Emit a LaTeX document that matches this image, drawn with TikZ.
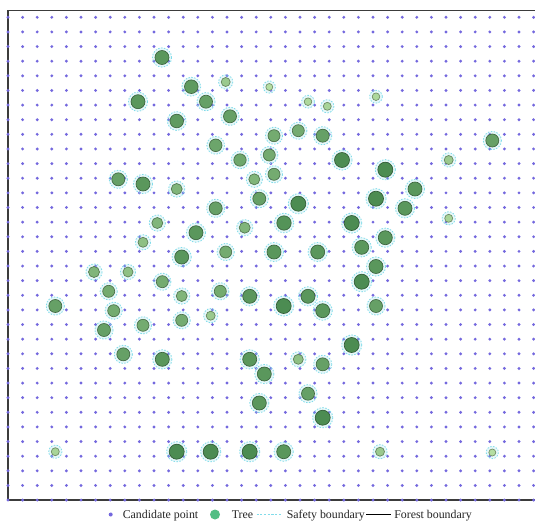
\documentclass[tikz,border=0pt]{standalone}
\usepackage{fontspec}
\setmainfont{Liberation Serif}
\definecolor{cand}{RGB}{116,104,222}
\definecolor{treeL}{RGB}{180,222,162}
\definecolor{treeD}{RGB}{76,140,82}
\definecolor{safe}{RGB}{130,220,234}
\definecolor{framec}{RGB}{60,60,60}
\definecolor{legtree}{RGB}{82,190,132}
\tikzset{
  candpt/.style={fill=cand},
  safetyring/.style={draw=safe, line width=0.6pt, dash pattern=on 1.1pt off 1.1pt, fill=safe, fill opacity=0.2},
  treebody/.style={line width=0.5pt},
  forestline/.style={draw=framec, line width=0.85pt},
  legtext/.style={anchor=base west, inner sep=0pt, font=\fontsize{8.9}{10}\selectfont, text=black!85}
}
\newcommand{\treeat}[3]{%
  \pgfmathtruncatemacro{\pp}{max(0,min(100,(#3-3.5)/4*100))}%
  \path[safetyring] (#1,#2) circle[radius=#3+2.6];
  \draw[treebody, fill=treeD!\pp!treeL, draw=treeD!\pp!treeL!65!black] (#1,#2) circle[radius=#3];
}
\begin{document}
\begin{tikzpicture}[x=0.75pt, y=-0.75pt]
\useasboundingbox (0,0) rectangle (535,525);
\fill[white] (0,0) rectangle (535,525);
\begin{scope}
\clip (0,0) rectangle (535,525);
% forest boundary
\draw[forestline] (545,10.7) -- (8,10.7) -- (8,500) -- (545,500);
% candidate points
\foreach \i in {0,...,36} {
  \foreach \j in {0,...,33} {
    \fill[candpt] (8+14.6*\i, 17.3+14.63*\j) circle[radius=1.6];
  }
}
% trees
\treeat{162}{57.5}{7}
\treeat{191.3}{86.7}{6.8}
\treeat{225.7}{82}{4.5}
\treeat{138}{101.7}{7}
\treeat{206}{101.7}{6.5}
\treeat{230}{116.3}{6.5}
\treeat{176.7}{121}{6.8}
\treeat{215.7}{145.3}{6.3}
\treeat{240}{160}{6.2}
\treeat{269.3}{87}{3.5}
\treeat{308}{101.7}{3.8}
\treeat{327.3}{106.3}{4}
\treeat{376}{96.7}{3.8}
\treeat{274}{135.7}{6}
\treeat{298.3}{130.7}{6}
\treeat{322.7}{135.7}{6.5}
\treeat{269.3}{155}{6}
\treeat{254.3}{179.3}{5.5}
\treeat{274}{174.3}{6}
\treeat{259.3}{198.7}{6.5}
\treeat{298.3}{203.7}{7.5}
\treeat{342}{160}{7.5}
\treeat{385.3}{169.7}{7.5}
\treeat{415}{189}{7}
\treeat{376}{198.7}{7.5}
\treeat{405}{208.3}{7}
\treeat{448.7}{160}{4.5}
\treeat{448.7}{218.3}{4}
\treeat{492.3}{140.5}{6.5}
\treeat{284}{223}{7.2}
\treeat{244.7}{227.7}{5.5}
\treeat{351.7}{223}{7.5}
\treeat{385.3}{237.7}{7}
\treeat{361.7}{247.3}{7}
\treeat{274}{252}{7}
\treeat{317.7}{252}{7}
\treeat{376}{266.5}{7}
\treeat{118.3}{179.3}{6.5}
\treeat{143}{184}{7}
\treeat{176.7}{189}{5.5}
\treeat{215.7}{208.3}{6.5}
\treeat{157.3}{223}{5.5}
\treeat{196}{232.7}{7}
\treeat{143}{242.3}{5}
\treeat{225.7}{252}{6}
\treeat{181.7}{257}{7}
\treeat{94}{272}{5.5}
\treeat{128}{272}{5}
\treeat{162.3}{281.7}{6}
\treeat{108.7}{291.3}{6}
\treeat{55.3}{306}{6.5}
\treeat{113.7}{310.7}{6}
\treeat{104}{330}{6.5}
\treeat{143}{325.3}{6}
\treeat{181.7}{296}{5.5}
\treeat{181.7}{320.3}{6}
\treeat{210.7}{315.7}{4.5}
\treeat{220.3}{291.3}{6}
\treeat{249.7}{296.3}{7}
\treeat{283.7}{306}{7.5}
\treeat{308}{296.3}{7}
\treeat{322.7}{310.7}{7}
\treeat{376}{306}{6.5}
\treeat{361.7}{281.7}{7.5}
\treeat{123.3}{354.3}{6.5}
\treeat{162.3}{359.3}{7}
\treeat{249.7}{359.3}{7}
\treeat{264.3}{374}{7}
\treeat{298.3}{359.3}{5}
\treeat{322.7}{364.3}{6.5}
\treeat{351.7}{345}{7.5}
\treeat{308}{393.7}{6.5}
\treeat{259.3}{403}{7}
\treeat{322.7}{417.7}{7.5}
\treeat{55.3}{451.7}{4}
\treeat{176.7}{451.7}{7.5}
\treeat{210.7}{451.7}{7.5}
\treeat{249.7}{451.7}{7.5}
\treeat{283.7}{451.7}{7}
\treeat{380}{451.7}{4.5}
\treeat{492.3}{452.5}{3.5}
\end{scope}
% legend
\fill[candpt] (110.7,514.5) circle[radius=2];
\node[legtext] (lcand) at (122.5,518) {Candidate point};
\fill[legtree] (215,514.5) circle[radius=5];
\node[legtext] (ltree) at (231.5,518) {Tree};
\coordinate (sa) at (256.5,514.5);
\coordinate (sb) at (282,514.5);
\draw[draw=safe, line width=0.6pt, dash pattern=on 1.6pt off 1.2pt] (sa) -- (sb);
\node[legtext] (lsafe) at (286.5,518) {Safety boundary};
\coordinate (fa) at (366,514.5);
\coordinate (fb) at (391,514.5);
\draw[black, line width=0.75pt] (fa) -- (fb);
\node[legtext] (lforest) at (394,518) {Forest boundary};
\end{tikzpicture}
\end{document}
